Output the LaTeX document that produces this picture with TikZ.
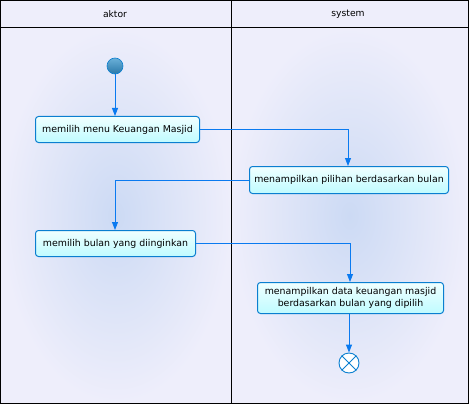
\documentclass[tikz,border=0pt]{standalone}
\usepackage{fontspec}
\setmainfont{DejaVu Sans}
\usetikzlibrary{arrows.meta,positioning}
\definecolor{lanebg}{HTML}{EEEEFB}
\definecolor{lanemid}{HTML}{CCDAF4}
\definecolor{boxtop}{HTML}{F0FFFF}
\definecolor{boxbot}{HTML}{BFFBFF}
\definecolor{boxline}{HTML}{0A7FD0}
\definecolor{flow}{HTML}{0A7AF0}
\definecolor{starttop}{HTML}{6AB0D8}
\definecolor{startbot}{HTML}{2A78A8}
\tikzset{
  x=1pt,y=-1pt,
  act/.style={draw=boxline,line width=1pt,rounded corners=3pt,top color=boxtop,bottom color=boxbot,
    font=\fontsize{9.4}{12}\selectfont,align=center,inner sep=0pt,anchor=north west},
  flowline/.style={draw=flow,line width=0.9pt,-{Triangle[width=6pt,length=8pt]}},
  lanefill/.style={inner color=lanemid,outer color=lanebg},
  hdr/.style={font=\fontsize{9.2}{11}\selectfont},
}
\begin{document}
\begin{tikzpicture}
\useasboundingbox (0,0) rectangle (469,404);
% lanes
\fill[lanebg] (0,0) rectangle (469,404);
\shade[lanefill] (1,28) rectangle (231,403);
\shade[lanefill] (231,28) rectangle (468,403);
\fill[lanebg] (1,1) rectangle (468,27);
\draw[line width=1pt] (0.5,0.5) rectangle (468.5,403.5);
\draw[line width=1pt] (231.5,0.5) -- (231.5,403.5);
\draw[line width=1pt] (0.5,27.5) -- (468.5,27.5);
\node[hdr] (h1) at (115,14) {aktor};
\node[hdr] (h2) at (348,14) {system};
% nodes
\node[circle,draw=boxline,line width=0.6pt,top color=starttop,bottom color=startbot,minimum size=16pt,inner sep=0pt] (start) at (115,66) {};
\node[act,minimum width=164pt,minimum height=26pt] (a1) at (35,116) {memilih menu Keuangan Masjid};
\node[act,minimum width=199pt,minimum height=27pt] (a2) at (249,166) {menampilkan pilihan berdasarkan bulan};
\node[act,minimum width=160pt,minimum height=26pt] (a3) at (35,230) {memilih bulan yang diinginkan};
\node[act,minimum width=186pt,minimum height=31pt] (a4) at (257,282) {menampilkan data keuangan masjid\\berdasarkan bulan yang dipilih};
\node[circle,draw=boxline,fill=white,line width=0.9pt,minimum size=20pt,inner sep=0pt] (fin) at (349,363) {};
\draw[boxline,line width=0.9pt] (fin.north west) -- (fin.south east) (fin.north east) -- (fin.south west);
% connectors
\draw[flowline] (start) -- (start |- a1.north);
\draw[flowline] (a1.east) -| (348,166);
\draw[flowline] (a2.west) -| (a3.north -| start);
\draw[flowline] (a3.east) -| (350,282);
\draw[flowline] (a4.south -| fin) -- (fin);
\end{tikzpicture}
\end{document}
